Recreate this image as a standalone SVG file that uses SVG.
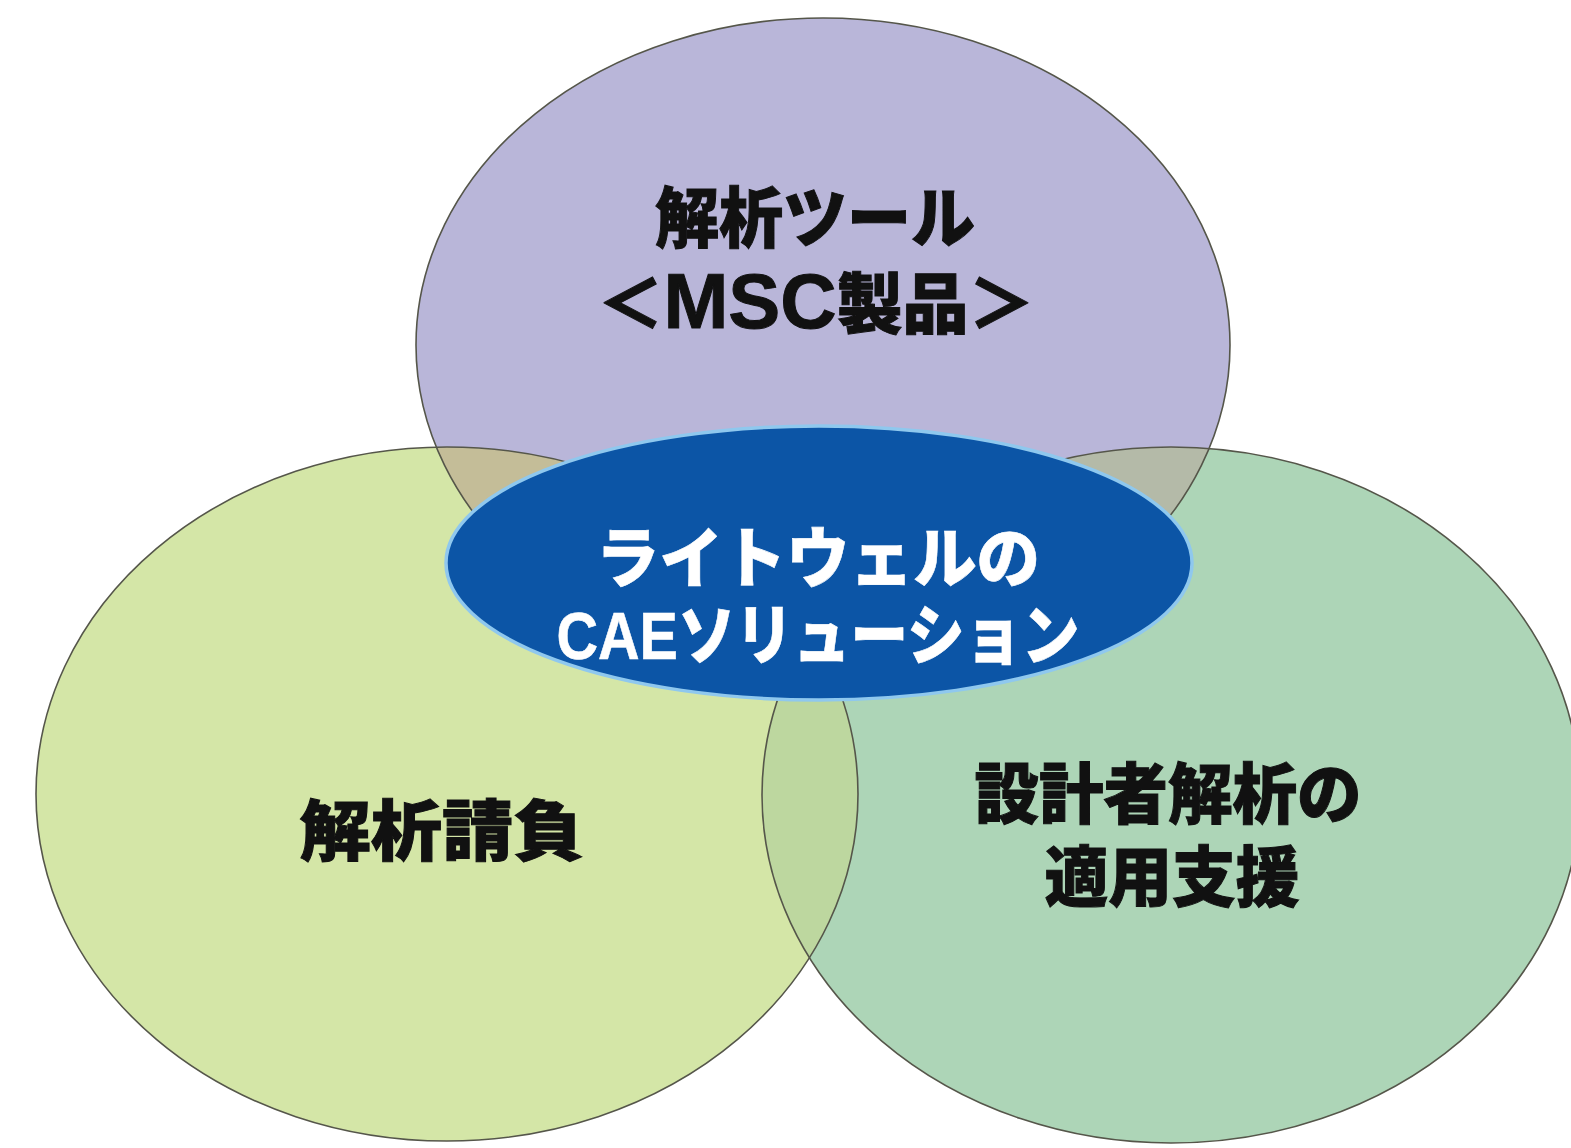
<svg xmlns="http://www.w3.org/2000/svg" width="1571" height="1148" viewBox="0 0 1571 1148">
  <style>
    .ring { fill: none; stroke: #55564a; stroke-width: 1.6; }
    .lbl { font-family: "Liberation Sans", "Noto Sans CJK JP", sans-serif; font-weight: 900; font-size: 66px; text-anchor: middle; fill: #111111; stroke: #111111; stroke-width: 1; }
    .lbl-w { fill: #ffffff; stroke: #ffffff; stroke-width: 0.6; }
    .latin { font-size: 78px; }
  </style>
  <defs>
    <clipPath id="clipTop"><ellipse cx="823" cy="345" rx="407" ry="327"/></clipPath>
    <clipPath id="clipLeft"><ellipse cx="447" cy="794" rx="411" ry="347"/></clipPath>
  </defs>
  <rect width="1571" height="1148" fill="#ffffff"/>

  <g id="circle-top">
    <ellipse cx="823" cy="345" rx="407" ry="327" fill="#b9b6d9"/>
  </g>
  <g id="circle-left">
    <ellipse cx="447" cy="794" rx="411" ry="347" fill="#d4e6a7"/>
  </g>
  <g id="circle-right">
    <ellipse cx="1171" cy="795" rx="409" ry="348" fill="#add5b7"/>
  </g>

  <g id="overlaps">
    <ellipse cx="447" cy="794" rx="411" ry="347" fill="#c4bd98" clip-path="url(#clipTop)"/>
    <ellipse cx="1171" cy="795" rx="409" ry="348" fill="#b4baa8" clip-path="url(#clipTop)"/>
    <ellipse cx="1171" cy="795" rx="409" ry="348" fill="#bdd79f" clip-path="url(#clipLeft)"/>
  </g>

  <g id="outlines">
    <ellipse class="ring" cx="823" cy="345" rx="407" ry="327"/>
    <ellipse class="ring" cx="447" cy="794" rx="411" ry="347"/>
    <ellipse class="ring" cx="1171" cy="795" rx="409" ry="348"/>
  </g>

  <g id="connectors"></g>

  <g id="center">
    <ellipse cx="819" cy="563" rx="373" ry="137" fill="#0c55a6" stroke="#8fc8ee" stroke-width="3.5"/>
    <text class="lbl lbl-w" x="818" y="582" textLength="444" lengthAdjust="spacingAndGlyphs">ライトウェルの</text>
    <text class="lbl lbl-w" x="818" y="659" textLength="523" lengthAdjust="spacingAndGlyphs">CAEソリューション</text>
  </g>

  <g id="label-top">
    <text class="lbl" x="815" y="242" textLength="320" lengthAdjust="spacingAndGlyphs">解析ツール</text>
    <text class="lbl" x="816" y="328" textLength="437" lengthAdjust="spacingAndGlyphs">＜<tspan class="latin">MSC</tspan>製品＞</text>
  </g>
  <g id="label-left">
    <text class="lbl" x="442" y="855" textLength="285" lengthAdjust="spacingAndGlyphs">解析請負</text>
  </g>
  <g id="label-right">
    <text class="lbl" x="1168" y="818" textLength="387" lengthAdjust="spacingAndGlyphs">設計者解析の</text>
    <text class="lbl" x="1172" y="901" textLength="255" lengthAdjust="spacingAndGlyphs">適用支援</text>
  </g>
</svg>
